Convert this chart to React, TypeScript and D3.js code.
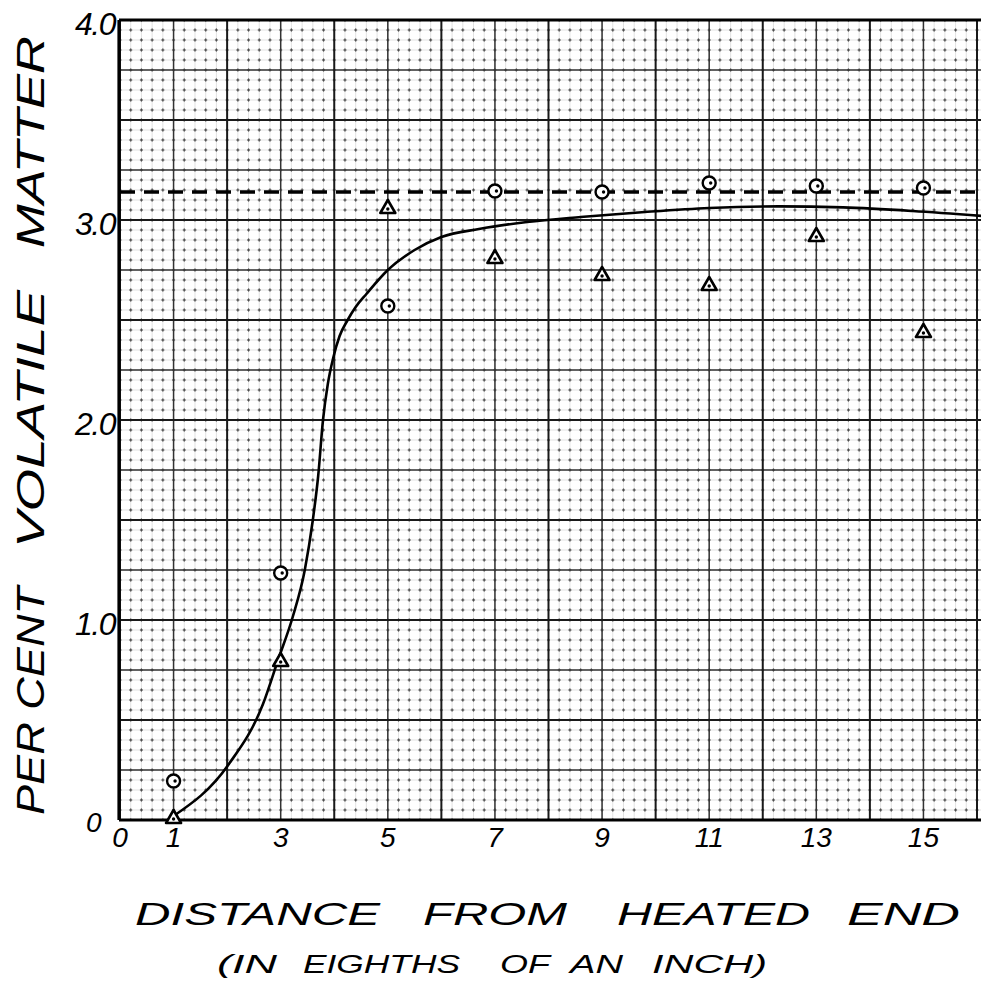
import * as d3 from "d3";

// measurement positions (eighths of an inch from heated end)
const positions = [1, 3, 5, 7, 9, 11, 13, 15];
// circle series (per cent volatile matter)
const circleValues = [0.195, 1.235, 2.57, 3.145, 3.14, 3.185, 3.17, 3.16];
// triangle series
const triangleValues = [0.01, 0.795, 3.06, 2.81, 2.725, 2.675, 2.92, 2.44];
// dashed reference level
const dashedLevel = 3.14;

// hand-drawn fitted curve
const curveX = [1.0, 2.02, 2.67, 2.95, 3.23, 3.45, 3.6, 3.7, 3.79, 3.88, 3.98, 4.1, 4.25, 4.4, 4.6, 5.0, 5.5, 6.0, 6.7, 7.6, 8.6, 9.8, 11.0, 12.3, 13.5, 14.8, 16.1];
const curveY = [0.02, 0.275, 0.58, 0.8, 1.02, 1.25, 1.5, 1.72, 2.0, 2.18, 2.31, 2.42, 2.5, 2.565, 2.63, 2.75, 2.85, 2.915, 2.955, 2.99, 3.015, 3.04, 3.06, 3.068, 3.063, 3.045, 3.02];

const xTickValues = [0, 1, 3, 5, 7, 9, 11, 13, 15];
const xTickLabels = ["0", "1", "3", "5", "7", "9", "11", "13", "15"];
const yTickValues = [0, 1, 2, 3, 4];
const yTickLabels = ["0", "1.0", "2.0", "3.0", "4.0"];

const W = 981, H = 990;
const FONT = "'Liberation Sans', 'DejaVu Sans', sans-serif";

export default function App() {
    const x = d3.scaleLinear().domain([0, 16]).range([120, 977]);
    const y = d3.scaleLinear().domain([0, 4]).range([820, 20]);
    const xMax = 16.3;

    const xMinor = d3.range(0, 82).map(i => +(i * 0.2).toFixed(2));
    const xMid = d3.range(0, 17).filter(v => v % 2 === 1);
    const xMajor = d3.range(0, 17).filter(v => v % 2 === 0);
    const yMinor = d3.range(0, 81).map(i => +(i * 0.05).toFixed(2));
    const yMid = d3.range(0, 17).map(i => i * 0.25).filter((v, i) => i % 2 === 1);
    const yMajor = d3.range(0, 9).map(i => i * 0.5);

    const stepX = x(0.2) - x(0);
    const stepY = y(0) - y(0.05);

    const line = d3.line<number>()
        .x((d, i) => x(curveX[i]))
        .y(d => y(d))
        .curve(d3.curveMonotoneX);

    const tri = (cx: number, cy: number) =>
        `M${cx - 7.5},${cy + 5} L${cx},${cy - 8} L${cx + 7.5},${cy + 5} Z`;

    return (
        <svg width={W} height={H} style={{ position: "absolute", left: 0, top: 0, background: "#fff" }}>
            <rect width={W} height={H} fill="#fff" />
            {/* minor grid: faint line + dotted crosses */}
            <g>
                {xMinor.map(v => (
                    <g key={"xm" + v}>
                        <line x1={x(v)} x2={x(v)} y1={y(4)} y2={y(0)} stroke="#cfcfcf" strokeWidth={0.6} />
                        <line x1={x(v)} x2={x(v)} y1={y(4)} y2={y(0)} stroke="#3a3a3a" strokeWidth={1.2}
                            strokeDasharray={`3 ${stepY - 3}`} strokeDashoffset={1.5} />
                    </g>
                ))}
                {yMinor.map(v => (
                    <g key={"ym" + v}>
                        <line x1={x(0)} x2={x(xMax)} y1={y(v)} y2={y(v)} stroke="#cfcfcf" strokeWidth={0.6} />
                        <line x1={x(0)} x2={x(xMax)} y1={y(v)} y2={y(v)} stroke="#3a3a3a" strokeWidth={1.2}
                            strokeDasharray={`3 ${stepX - 3}`} strokeDashoffset={1.5} />
                    </g>
                ))}
            </g>
            {/* mid grid */}
            <g stroke="#333" strokeWidth={1.5}>
                {xMid.map(v => <line key={"xd" + v} x1={x(v)} x2={x(v)} y1={y(4)} y2={y(0)} />)}
                {yMid.map(v => <line key={"yd" + v} x1={x(0)} x2={x(xMax)} y1={y(v)} y2={y(v)} />)}
            </g>
            {/* major grid */}
            <g stroke="#1a1a1a" strokeWidth={2}>
                {xMajor.map(v => <line key={"xj" + v} x1={x(v)} x2={x(v)} y1={y(4)} y2={y(0)} />)}
                {yMajor.map(v => <line key={"yj" + v} x1={x(0)} x2={x(xMax)} y1={y(v)} y2={y(v)} />)}
            </g>
            {/* frame */}
            <g stroke="#000" strokeWidth={3.2} fill="none">
                <line x1={x(0) - 1} x2={x(xMax)} y1={y(4)} y2={y(4)} />
                <line x1={x(0) - 1} x2={x(0) - 1} y1={y(4)} y2={y(0)} />
                <line x1={x(0) - 1} x2={x(xMax)} y1={y(0)} y2={y(0)} />
            </g>

            {/* dashed level */}
            <line x1={x(0)} x2={x(xMax)} y1={y(dashedLevel)} y2={y(dashedLevel)}
                stroke="#000" strokeWidth={3.4} strokeDasharray="15 9" />

            {/* fitted curve */}
            <path d={line(curveY) || ""} fill="none" stroke="#000" strokeWidth={2.6} strokeLinecap="round" />

            {/* circles */}
            {positions.map((p, i) => (
                <g key={"c" + i}>
                    <circle cx={x(p)} cy={y(circleValues[i])} r={6.5} fill="#fff" stroke="#000" strokeWidth={2.4} />
                    <circle cx={x(p) + 1.5} cy={y(circleValues[i])} r={1.7} fill="#000" />
                </g>
            ))}
            {/* triangles */}
            {positions.map((p, i) => (
                <g key={"t" + i}>
                    <path d={tri(x(p), y(triangleValues[i]))} fill="#fff" stroke="#000" strokeWidth={2.6} strokeLinejoin="round" />
                    <circle cx={x(p)} cy={y(triangleValues[i]) + 1} r={1.7} fill="#000" />
                </g>
            ))}

            {/* tick labels */}
            <g fontFamily={FONT} fontStyle="italic" fill="#000">
                {xTickValues.map((v, i) => (
                    <text key={"xt" + v} x={x(v)} y={847} fontSize={28} textAnchor="middle">{xTickLabels[i]}</text>
                ))}
                {yTickValues.map((v, i) => (
                    <text key={"yt" + v} x={v === 0 ? 100 : 115} y={y(v) + (v === 0 ? 12 : 15)}
                        fontSize={v === 0 ? 28 : 32} textAnchor="end" letterSpacing={-1.5}>{yTickLabels[i]}</text>
                ))}
            </g>

            {/* y axis title */}
            <g fontFamily={FONT} fontStyle="italic" fontSize={38} fill="#000">
                <text transform="translate(44,815) rotate(-90)" textLength={228} lengthAdjust="spacingAndGlyphs">PER CENT</text>
                <text transform="translate(44,548) rotate(-90)" textLength={258} lengthAdjust="spacingAndGlyphs">VOLATILE</text>
                <text transform="translate(44,248) rotate(-90)" textLength={212} lengthAdjust="spacingAndGlyphs">MATTER</text>
            </g>

            {/* x axis title */}
            <g fontFamily={FONT} fontStyle="italic" fontSize={32} fill="#000">
                <text x={135} y={925} textLength={245} lengthAdjust="spacingAndGlyphs">DISTANCE</text>
                <text x={423} y={925} textLength={144} lengthAdjust="spacingAndGlyphs">FROM</text>
                <text x={617} y={925} textLength={193} lengthAdjust="spacingAndGlyphs">HEATED</text>
                <text x={847} y={925} textLength={113} lengthAdjust="spacingAndGlyphs">END</text>
            </g>
            <g fontFamily={FONT} fontStyle="italic" fontSize={25} fill="#000">
                <text x={217} y={973} textLength={60} lengthAdjust="spacingAndGlyphs">(IN</text>
                <text x={303} y={973} textLength={157} lengthAdjust="spacingAndGlyphs">EIGHTHS</text>
                <text x={500} y={973} textLength={50} lengthAdjust="spacingAndGlyphs">OF</text>
                <text x={570} y={973} textLength={53} lengthAdjust="spacingAndGlyphs">AN</text>
                <text x={652} y={973} textLength={115} lengthAdjust="spacingAndGlyphs">INCH)</text>
            </g>
        </svg>
    );
}
